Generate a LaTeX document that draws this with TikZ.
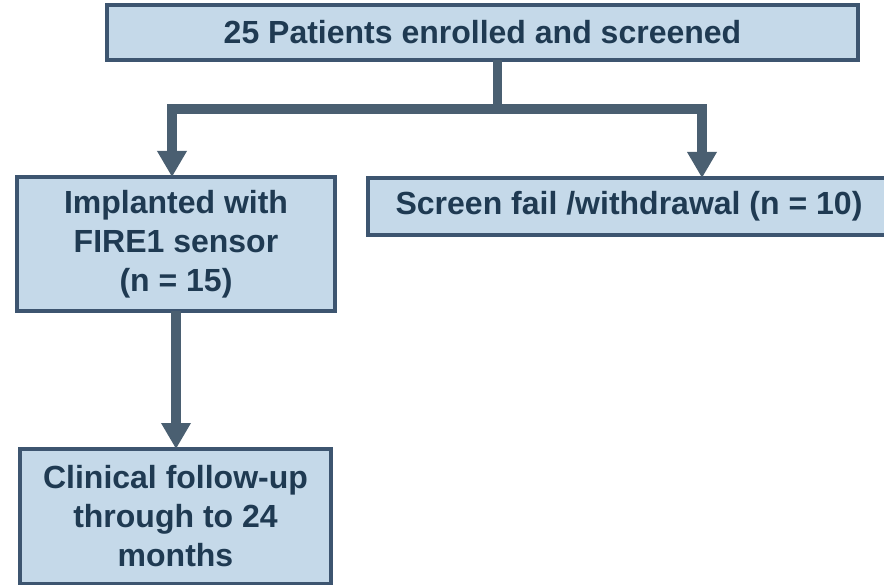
\documentclass[tikz,border=0pt]{standalone}
\usepackage{fontspec}
\setmainfont{Liberation Sans}
\usetikzlibrary{arrows.meta}
\definecolor{boxfill}{HTML}{C5D9E9}
\definecolor{boxline}{HTML}{3D5570}
\definecolor{arrowcol}{HTML}{4A5F71}
\definecolor{txtcol}{HTML}{1F3A52}
\tikzset{
  flowbox/.style={draw=boxline, fill=boxfill, line width=4pt, inner sep=0pt,
    text=txtcol, align=center, font=\fontsize{32}{39}\selectfont\bfseries,
    outer sep=0pt},
  conn/.style={draw=arrowcol, line width=9.5pt, line join=miter},
  tip/.style={-{Triangle[width=28pt,length=26pt]}}
}
\begin{document}
\begin{tikzpicture}[x=1pt,y=-1pt]
\useasboundingbox (0,0) rectangle (884,585);
\node[flowbox, minimum width=751pt, minimum height=55pt] (top) at (482.5,32.5) {25 Patients enrolled and screened};
\node[flowbox, minimum width=318pt, minimum height=134pt] (impl) at (176,244) {Implanted with\\FIRE1 sensor\\(n = 15)};
\node[flowbox, minimum width=522pt, minimum height=57pt] (scr) at (629,206.5) {Screen fail /withdrawal (n = 10)};
\node[flowbox, minimum width=311pt, minimum height=135pt] (clin) at (175.5,516.5) {Clinical follow-up\\through to 24\\months};
\coordinate (j) at (497.5,109);
\coordinate (bl) at (172,109);
\coordinate (br) at (702,109);
\draw[conn] (top.south -| j) -- (j);
\draw[conn, {Triangle[width=28pt,length=26pt]}-{Triangle[width=28pt,length=26pt]}] (bl |- impl.north) -- (bl) -- (br) -- (br |- scr.north);
\draw[conn, tip] (impl.south -| 176,0) -- (clin.north -| 176,0);
\end{tikzpicture}
\end{document}
